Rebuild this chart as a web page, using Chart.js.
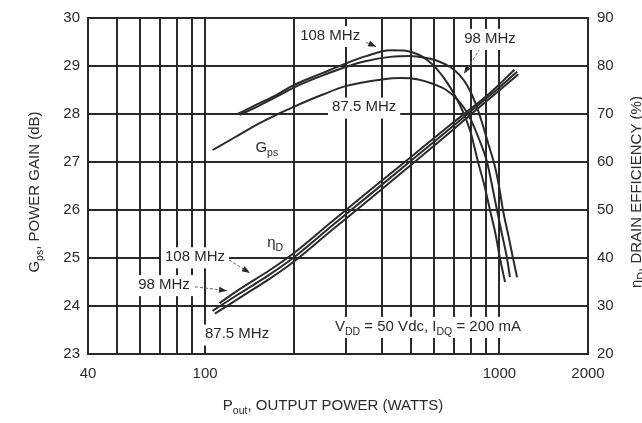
<!DOCTYPE html>
<html>
<head>
<meta charset="utf-8">
<script src="https://cdn.jsdelivr.net/npm/chart.js@4"></script>
<style>
  html, body { margin: 0; padding: 0; background: #fff; }
  #wrap { width: 642px; height: 423px; }
</style>
</head>
<body>
<div id="wrap"><canvas id="gainChart"></canvas></div>
<script>
// x axis (output power, W), log scale
const xTicks = [40, 50, 60, 70, 80, 90, 100, 200, 300, 400, 500, 600, 700, 800, 900, 1000, 2000];
const xLabels = [40, 100, 1000, 2000];

// power gain (dB) vs Pout
const gainPower108 = [129, 150, 175, 200, 250, 300, 350, 425, 480, 530, 570, 610, 660, 710, 752, 800, 846, 890, 929, 970, 1004, 1045];
const gain108 = [28.0, 28.2, 28.4, 28.6, 28.85, 29.05, 29.2, 29.33, 29.32, 29.24, 29.12, 28.95, 28.68, 28.36, 28.05, 27.6, 27.0, 26.5, 26.0, 25.5, 25.0, 24.5];

const gainPower98 = [131, 150, 175, 200, 250, 300, 350, 425, 500, 560, 620, 680, 730, 780, 830, 870, 920, 966, 1000, 1028, 1070, 1112, 1148];
const gain98 = [27.98, 28.15, 28.36, 28.55, 28.8, 28.98, 29.1, 29.19, 29.21, 29.17, 29.1, 28.98, 28.82, 28.58, 28.22, 27.85, 27.35, 26.9, 26.45, 26.0, 25.5, 25.0, 24.6];

const gainPower875 = [106, 125, 150, 177, 200, 250, 300, 400, 460, 530, 600, 660, 720, 760, 794, 850, 908, 945, 981, 1020, 1061, 1086];
const gain875 = [27.25, 27.5, 27.78, 28.0, 28.15, 28.4, 28.58, 28.72, 28.75, 28.72, 28.62, 28.5, 28.3, 28.12, 27.92, 27.5, 27.0, 26.5, 26.0, 25.5, 25.0, 24.6];

// drain efficiency (%) vs Pout
const effPower108 = [112, 131, 166, 199, 266, 363, 497, 680, 929, 1125];
const eff108 = [30.6, 33.5, 37.5, 40.9, 47.3, 54.1, 60.9, 67.7, 74.4, 79.2];

const effPower98 = [106, 131, 166, 199, 266, 363, 497, 680, 929, 1148];
const eff98 = [29.0, 32.6, 36.6, 40.0, 46.4, 53.2, 60.1, 67.0, 73.9, 78.8];

const effPower875 = [108, 131, 166, 199, 266, 363, 497, 680, 929, 1160];
const eff875 = [28.4, 31.7, 35.7, 39.1, 45.5, 52.3, 59.2, 66.2, 73.3, 78.3];

const FONT = '"Liberation Sans", Arial, sans-serif';
const INK = '#2a2a2a';

function toPoints(xs, ys) {
  return xs.map((x, i) => ({ x: x, y: ys[i] }));
}

// text notes placed in data units (W, dB); [text, isSubscript]
const notes = [
  { parts: [["108 MHz"]], x: 266, y: 29.63 },
  { parts: [["98 MHz"]], x: 929, y: 29.57 },
  { parts: [["87.5 MHz"]], x: 347, y: 28.14 },
  { parts: [["G"], ["ps", true]], x: 162, y: 27.29 },
  { parts: [["\u03B7"], ["D", true]], x: 173, y: 25.31 },
  { parts: [["108 MHz"]], x: 92.4, y: 25.02 },
  { parts: [["98 MHz"]], x: 72.5, y: 24.44 },
  { parts: [["87.5 MHz"]], x: 128.4, y: 23.41 },
  { parts: [["V"], ["DD", true], [" = 50 Vdc, I"], ["DQ", true], [" = 200 mA"]], x: 572, y: 23.57 },
];

const arrows = [
  { from: [316, 29.63], to: [381, 29.40] },
  { from: [859, 29.36], to: [758, 28.84] },
  { from: [120.6, 24.96], to: [142, 24.69] },
  { from: [92.4, 24.40], to: [118.7, 24.32] },
];

function richWidth(ctx, parts, size) {
  let w = 0;
  parts.forEach(p => {
    ctx.font = (p[1] ? size * 0.7 : size) + "px " + FONT;
    w += ctx.measureText(p[0]).width;
  });
  return w;
}

function drawRich(ctx, parts, cx, cy, size, bg) {
  const w = richWidth(ctx, parts, size);
  if (bg) {
    ctx.fillStyle = "#fff";
    ctx.fillRect(cx - w / 2 - 4, cy - size * 0.65, w + 8, size * 1.4);
  }
  let x = cx - w / 2;
  ctx.textAlign = "left";
  ctx.textBaseline = "middle";
  ctx.fillStyle = INK;
  parts.forEach(p => {
    const s = p[1] ? size * 0.7 : size;
    ctx.font = s + "px " + FONT;
    ctx.fillText(p[0], x, p[1] ? cy + size * 0.35 : cy);
    x += ctx.measureText(p[0]).width;
  });
}

const notesPlugin = {
  id: "notes",
  afterDatasetsDraw(chart) {
    const ctx = chart.ctx;
    const sx = chart.scales.x, sy = chart.scales.y;
    ctx.save();
    arrows.forEach(a => {
      const x1 = sx.getPixelForValue(a.from[0]), y1 = sy.getPixelForValue(a.from[1]);
      const x2 = sx.getPixelForValue(a.to[0]), y2 = sy.getPixelForValue(a.to[1]);
      ctx.strokeStyle = "#666";
      ctx.lineWidth = 1;
      ctx.setLineDash([3, 2]);
      ctx.beginPath();
      ctx.moveTo(x1, y1);
      ctx.lineTo(x2, y2);
      ctx.stroke();
      ctx.setLineDash([]);
      const ang = Math.atan2(y2 - y1, x2 - x1);
      ctx.fillStyle = INK;
      ctx.beginPath();
      ctx.moveTo(x2, y2);
      ctx.lineTo(x2 - 8 * Math.cos(ang) + 3 * Math.sin(ang), y2 - 8 * Math.sin(ang) - 3 * Math.cos(ang));
      ctx.lineTo(x2 - 8 * Math.cos(ang) - 3 * Math.sin(ang), y2 - 8 * Math.sin(ang) + 3 * Math.cos(ang));
      ctx.closePath();
      ctx.fill();
    });
    notes.forEach(n => {
      drawRich(ctx, n.parts, sx.getPixelForValue(n.x), sy.getPixelForValue(n.y), 15, true);
    });
    ctx.restore();
  },
  afterDraw(chart) {
    const ctx = chart.ctx;
    const area = chart.chartArea;
    const midY = (area.top + area.bottom) / 2 + 6;
    ctx.save();
    // x title
    drawRich(ctx, [["P"], ["out", true], [", OUTPUT POWER (WATTS)"]], (area.left + area.right) / 2 - 5, 406, 15, false);
    // left title
    ctx.save();
    ctx.translate(35, midY);
    ctx.rotate(-Math.PI / 2);
    drawRich(ctx, [["G"], ["ps", true], [", POWER GAIN (dB)"]], 0, 0, 15, false);
    ctx.restore();
    // right title
    ctx.save();
    ctx.translate(637, midY);
    ctx.rotate(-Math.PI / 2);
    drawRich(ctx, [["\u03B7"], ["D", true], [", DRAIN EFFICIENCY (%)"]], 0, 0, 15, false);
    ctx.restore();
    ctx.restore();
  }
};

const lineStyle = {
  borderColor: INK,
  borderWidth: 2,
  pointRadius: 0,
  fill: false,
  cubicInterpolationMode: "monotone",
};

const ctx = document.getElementById("gainChart").getContext("2d");
new Chart(ctx, {
  type: "line",
  data: {
    datasets: [
      { label: "Gps 108 MHz", data: toPoints(gainPower108, gain108), yAxisID: "y", ...lineStyle },
      { label: "Gps 98 MHz", data: toPoints(gainPower98, gain98), yAxisID: "y", ...lineStyle },
      { label: "Gps 87.5 MHz", data: toPoints(gainPower875, gain875), yAxisID: "y", ...lineStyle },
      { label: "ηD 108 MHz", data: toPoints(effPower108, eff108), yAxisID: "y2", ...lineStyle },
      { label: "ηD 98 MHz", data: toPoints(effPower98, eff98), yAxisID: "y2", ...lineStyle },
      { label: "ηD 87.5 MHz", data: toPoints(effPower875, eff875), yAxisID: "y2", ...lineStyle },
    ],
  },
  options: {
    responsive: true,
    maintainAspectRatio: false,
    animation: false,
    layout: { padding: { top: 15, left: 0, right: 0, bottom: 0 } },
    plugins: {
      legend: { display: false },
      tooltip: { enabled: false },
    },
    scales: {
      x: {
        type: "logarithmic",
        min: 40,
        max: 2000,
        afterBuildTicks: (s) => { s.ticks = xTicks.map(v => ({ value: v })); },
        afterFit: (s) => { s.height = 69; },
        ticks: {
          autoSkip: false,
          maxRotation: 0,
          padding: 11,
          color: INK,
          font: { family: FONT, size: 15 },
          callback: (v) => (xLabels.includes(v) ? String(v) : ""),
        },
        grid: { color: INK, lineWidth: 2, drawTicks: false },
        border: { color: INK, width: 2 },
      },
      y: {
        position: "left",
        min: 23,
        max: 30,
        afterFit: (s) => { s.width = 88; },
        ticks: { stepSize: 1, padding: 8, color: INK, font: { family: FONT, size: 15 } },
        grid: { color: INK, lineWidth: 2, drawTicks: false },
        border: { color: INK, width: 2 },
      },
      y2: {
        position: "right",
        min: 20,
        max: 90,
        afterFit: (s) => { s.width = 54; },
        ticks: { stepSize: 10, padding: 9, color: INK, font: { family: FONT, size: 15 } },
        grid: { display: false, drawTicks: false },
        border: { color: INK, width: 2 },
      },
    },
  },
  plugins: [notesPlugin],
});
</script>
</body>
</html>
